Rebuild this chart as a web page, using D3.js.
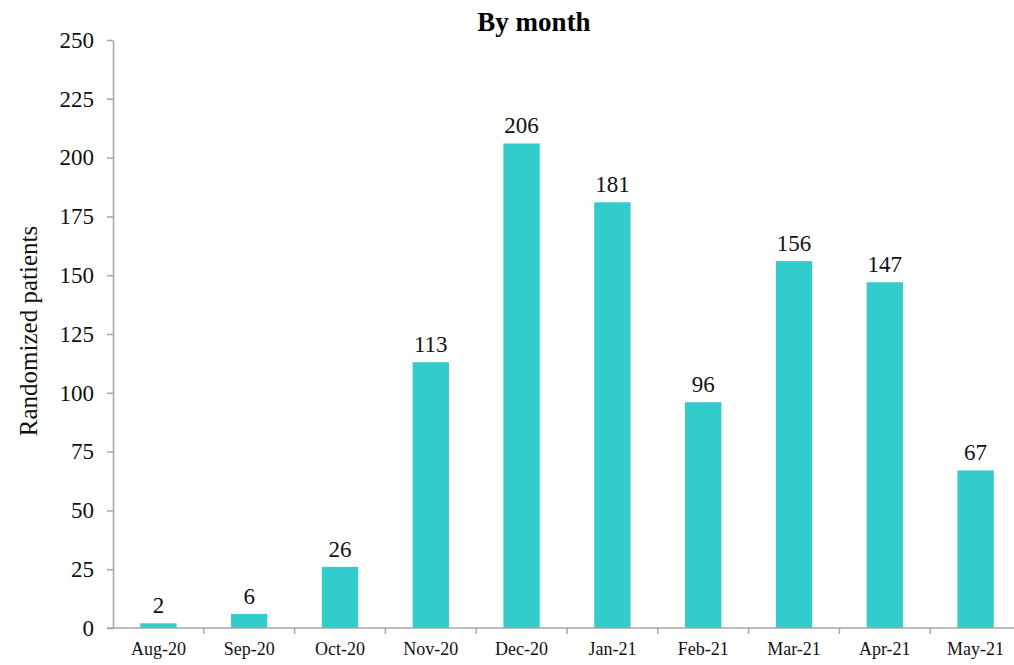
<!DOCTYPE html>
<html>
<head>
<meta charset="utf-8">
<script src="https://cdn.jsdelivr.net/npm/d3@7"></script>
<style>
  body { margin: 0; background: #fff; }
  svg { display: block; font-family: "Liberation Serif", "Times New Roman", serif; }
  .axis path, .axis line { stroke: #a6a6a6; stroke-width: 1.5; }
  .axis text { fill: #111; }
</style>
</head>
<body>
<svg width="1014" height="665"></svg>
<script>
'use strict';

var months = ['Aug-20', 'Sep-20', 'Oct-20', 'Nov-20', 'Dec-20', 'Jan-21', 'Feb-21', 'Mar-21', 'Apr-21', 'May-21'];
var patients = [2, 6, 26, 113, 206, 181, 96, 156, 147, 67];
var yTicks = [0, 25, 50, 75, 100, 125, 150, 175, 200, 225, 250];

var svg = d3.select('svg'),
    plotLeft = 113, plotRight = 1021, plotTop = 40, plotBottom = 628;

var x = d3.scaleBand().domain(months).range([plotLeft, plotRight]).paddingInner(0.6).paddingOuter(0.3);
var xEdge = d3.scaleLinear().domain([0, months.length]).range([plotLeft, plotRight]);
var y = d3.scaleLinear().domain([0, 250]).range([plotBottom, plotTop]);

// title
svg.append('text')
    .attr('x', 534).attr('y', 31)
    .attr('text-anchor', 'middle')
    .style('font-weight', 'bold')
    .style('font-size', '27px')
    .attr('fill', '#000')
    .text('By month');

// y axis label
svg.append('text')
    .attr('transform', 'translate(37,331) rotate(-90)')
    .attr('text-anchor', 'middle')
    .style('font-size', '25px')
    .attr('fill', '#111')
    .text('Randomized patients');

// bars
svg.append('g').selectAll('rect')
    .data(patients)
    .enter().append('rect')
    .attr('x', function (d, i) { return x(months[i]); })
    .attr('y', function (d) { return y(d); })
    .attr('width', x.bandwidth())
    .attr('height', function (d) { return y(0) - y(d); })
    .attr('fill', '#33cccc');

// value labels
svg.append('g').selectAll('text')
    .data(patients)
    .enter().append('text')
    .attr('x', function (d, i) { return x(months[i]) + x.bandwidth() / 2; })
    .attr('y', function (d) { return y(d) - 10; })
    .attr('text-anchor', 'middle')
    .style('font-size', '23px')
    .attr('fill', '#111')
    .text(function (d) { return d; });

// y axis
var yAxis = svg.append('g')
    .attr('class', 'axis')
    .attr('transform', 'translate(' + plotLeft + ',0)')
    .call(d3.axisLeft(y).tickValues(yTicks).tickSize(6).tickPadding(13).tickSizeOuter(0));
yAxis.selectAll('text').style('font-size', '23px').style('font-family', 'Liberation Serif');

// x axis: line with ticks at category boundaries
var xAxis = svg.append('g')
    .attr('class', 'axis')
    .attr('transform', 'translate(0,' + plotBottom + ')');
xAxis.append('line')
    .attr('x1', plotLeft - 6).attr('x2', plotRight);
xAxis.selectAll('.tick')
    .data(d3.range(1, months.length))
    .enter().append('line')
    .attr('x1', function (d) { return xEdge(d); })
    .attr('x2', function (d) { return xEdge(d); })
    .attr('y1', 0).attr('y2', 6);
xAxis.selectAll('.lbl')
    .data(months)
    .enter().append('text')
    .attr('x', function (d) { return x(d) + x.bandwidth() / 2; })
    .attr('y', 27)
    .attr('text-anchor', 'middle')
    .style('font-size', '18px')
    .text(function (d) { return d; });
</script>
</body>
</html>
